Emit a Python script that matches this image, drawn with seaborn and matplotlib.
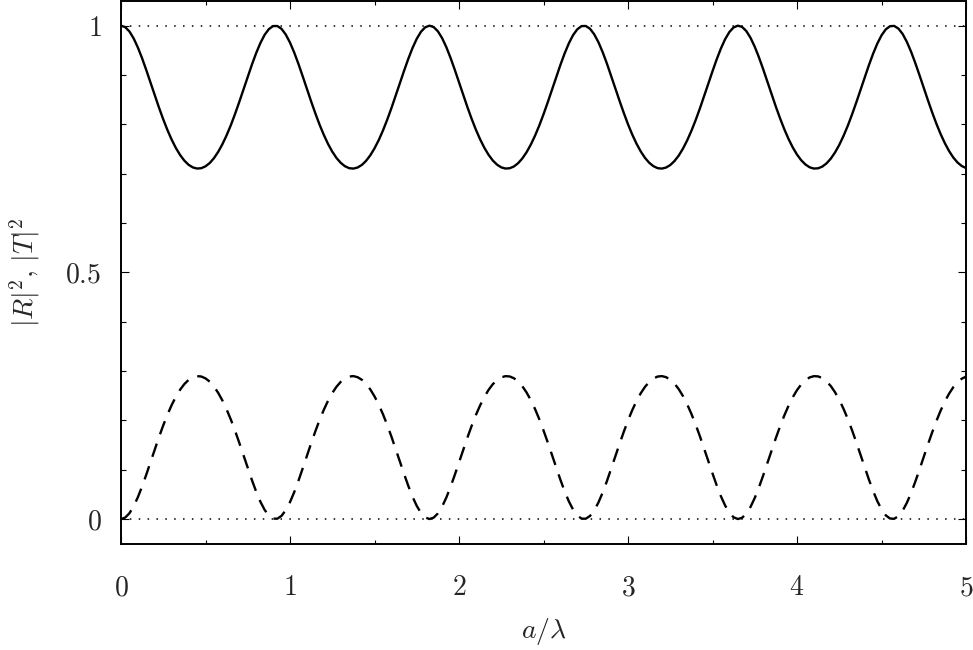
import numpy as np
import matplotlib
matplotlib.use("Agg")
import matplotlib.pyplot as plt
from matplotlib.ticker import MultipleLocator
import seaborn as sns

# a/lambda samples (step 0.025)
a_lambda = np.linspace(0, 5, 201)

# |T|^2
t_vals = [1.0000, 0.9970, 0.9882, 0.9741, 0.9556, 0.9338, 0.9096, 0.8843, 0.8587, 0.8337,
          0.8101, 0.7883, 0.7688, 0.7519, 0.7377, 0.7264, 0.7180, 0.7127, 0.7104, 0.7111,
          0.7149, 0.7216, 0.7314, 0.7442, 0.7597, 0.7779, 0.7984, 0.8212, 0.8456, 0.8709,
          0.8965, 0.9214, 0.9446, 0.9650, 0.9815, 0.9931, 0.9992, 0.9993, 0.9935, 0.9820,
          0.9657, 0.9455, 0.9224, 0.8975, 0.8719, 0.8466, 0.8222, 0.7993, 0.7787, 0.7603,
          0.7447, 0.7319, 0.7220, 0.7151, 0.7112, 0.7103, 0.7125, 0.7177, 0.7260, 0.7372,
          0.7513, 0.7680, 0.7875, 0.8092, 0.8328, 0.8577, 0.8832, 0.9086, 0.9328, 0.9548,
          0.9734, 0.9877, 0.9967, 1.0000, 0.9972, 0.9886, 0.9748, 0.9565, 0.9347, 0.9106,
          0.8853, 0.8597, 0.8347, 0.8110, 0.7891, 0.7696, 0.7525, 0.7382, 0.7267, 0.7183,
          0.7128, 0.7104, 0.7110, 0.7146, 0.7213, 0.7310, 0.7436, 0.7590, 0.7771, 0.7976,
          0.8203, 0.8446, 0.8699, 0.8955, 0.9204, 0.9437, 0.9642, 0.9809, 0.9927, 0.9991,
          0.9994, 0.9938, 0.9826, 0.9665, 0.9464, 0.9234, 0.8985, 0.8730, 0.8476, 0.8232,
          0.8002, 0.7794, 0.7610, 0.7453, 0.7323, 0.7223, 0.7153, 0.7112, 0.7103, 0.7124,
          0.7175, 0.7256, 0.7366, 0.7506, 0.7674, 0.7867, 0.8083, 0.8318, 0.8567, 0.8822,
          0.9076, 0.9319, 0.9540, 0.9728, 0.9872, 0.9965, 1.0000, 0.9975, 0.9891, 0.9754,
          0.9573, 0.9356, 0.9116, 0.8863, 0.8607, 0.8357, 0.8120, 0.7900, 0.7703, 0.7531,
          0.7387, 0.7272, 0.7186, 0.7129, 0.7104, 0.7109, 0.7144, 0.7210, 0.7305, 0.7430,
          0.7583, 0.7764, 0.7967, 0.8194, 0.8436, 0.8689, 0.8945, 0.9195, 0.9429, 0.9635,
          0.9803, 0.9924, 0.9989, 0.9995, 0.9941, 0.9832, 0.9672, 0.9472, 0.9243, 0.8995,
          0.8740, 0.8486, 0.8241, 0.8011, 0.7802, 0.7617, 0.7458, 0.7327, 0.7226, 0.7155,
          0.7114]

# |R|^2
r_vals = [0.0000, 0.0030, 0.0118, 0.0259, 0.0444, 0.0662, 0.0904, 0.1157, 0.1413, 0.1663,
          0.1899, 0.2117, 0.2312, 0.2481, 0.2623, 0.2736, 0.2820, 0.2873, 0.2896, 0.2889,
          0.2851, 0.2784, 0.2686, 0.2558, 0.2403, 0.2221, 0.2016, 0.1788, 0.1544, 0.1291,
          0.1035, 0.0786, 0.0554, 0.0350, 0.0185, 0.0069, 0.0008, 0.0007, 0.0065, 0.0180,
          0.0343, 0.0545, 0.0776, 0.1025, 0.1281, 0.1534, 0.1778, 0.2007, 0.2213, 0.2397,
          0.2553, 0.2681, 0.2780, 0.2849, 0.2888, 0.2897, 0.2875, 0.2823, 0.2740, 0.2628,
          0.2487, 0.2320, 0.2125, 0.1908, 0.1672, 0.1423, 0.1168, 0.0914, 0.0672, 0.0452,
          0.0266, 0.0123, 0.0033, 0.0000, 0.0028, 0.0114, 0.0252, 0.0435, 0.0653, 0.0894,
          0.1147, 0.1403, 0.1653, 0.1890, 0.2109, 0.2304, 0.2475, 0.2618, 0.2733, 0.2817,
          0.2872, 0.2896, 0.2890, 0.2854, 0.2787, 0.2690, 0.2564, 0.2410, 0.2229, 0.2024,
          0.1797, 0.1554, 0.1301, 0.1045, 0.0796, 0.0563, 0.0358, 0.0191, 0.0073, 0.0009,
          0.0006, 0.0062, 0.0174, 0.0335, 0.0536, 0.0766, 0.1015, 0.1270, 0.1524, 0.1768,
          0.1998, 0.2206, 0.2390, 0.2547, 0.2677, 0.2777, 0.2847, 0.2888, 0.2897, 0.2876,
          0.2825, 0.2744, 0.2634, 0.2494, 0.2326, 0.2133, 0.1917, 0.1682, 0.1433, 0.1178,
          0.0924, 0.0681, 0.0460, 0.0272, 0.0128, 0.0035, 0.0000, 0.0025, 0.0109, 0.0246,
          0.0427, 0.0644, 0.0884, 0.1137, 0.1393, 0.1643, 0.1880, 0.2100, 0.2297, 0.2469,
          0.2613, 0.2728, 0.2814, 0.2871, 0.2896, 0.2891, 0.2856, 0.2790, 0.2695, 0.2570,
          0.2417, 0.2236, 0.2033, 0.1806, 0.1564, 0.1311, 0.1055, 0.0805, 0.0571, 0.0365,
          0.0197, 0.0076, 0.0011, 0.0005, 0.0059, 0.0168, 0.0328, 0.0528, 0.0757, 0.1005,
          0.1260, 0.1514, 0.1759, 0.1989, 0.2198, 0.2383, 0.2542, 0.2673, 0.2774, 0.2845,
          0.2886]

ref_levels = [0, 1]
x_ticks = [0, 1, 2, 3, 4, 5]
y_ticks = [0, 0.5, 1]
y_tick_labels = ["$0$", "$0.5$", "$1$"]

sns.set_theme(style="ticks")
plt.rcParams["mathtext.fontset"] = "cm"
plt.rcParams["font.family"] = ["DejaVu Serif"]

fig = plt.figure(figsize=(9.73, 6.5), dpi=100)
ax = fig.add_axes([121 / 973, 1 - 543.7 / 650, 845 / 973, 542.7 / 650])

# dotted guide lines at 0 and 1
for lv in ref_levels:
    ax.axhline(lv, color="black", lw=1.1, linestyle=(0, (1, 4.8)))

sns.lineplot(x=a_lambda, y=t_vals, ax=ax, color="black", lw=1.7)
sns.lineplot(x=a_lambda, y=r_vals, ax=ax, color="black", lw=1.7,
             linestyle=(0, (5.9, 4.2)))

ax.set_xlim(0, 5)
ax.set_ylim(-0.05, 1.05)
ax.set_xticks(x_ticks, labels=[f"${t}$" for t in x_ticks])
ax.set_yticks(y_ticks, labels=y_tick_labels)
ax.xaxis.set_minor_locator(MultipleLocator(0.5))
ax.yaxis.set_minor_locator(MultipleLocator(0.1))

ax.tick_params(which="both", direction="in", top=True, right=True,
               width=0.8, color="black", labelsize=20)
ax.tick_params(axis="x", which="major", length=5.8, pad=22)
ax.tick_params(axis="x", which="minor", length=3)
ax.tick_params(axis="y", which="major", length=6, pad=14)
ax.tick_params(axis="y", which="minor", length=3.6)

for sp in ax.spines.values():
    sp.set_linewidth(1.4)
    sp.set_color("black")

ax.set_xlabel(r"$a/\lambda$", fontsize=20)
ax.set_ylabel(r"$|R|^2,\, |T|^2$", fontsize=20)
ax.xaxis.set_label_coords(0.5, -0.133)
ax.yaxis.set_label_coords(-0.093, 0.5)

fig.savefig("out.png", dpi=100)
